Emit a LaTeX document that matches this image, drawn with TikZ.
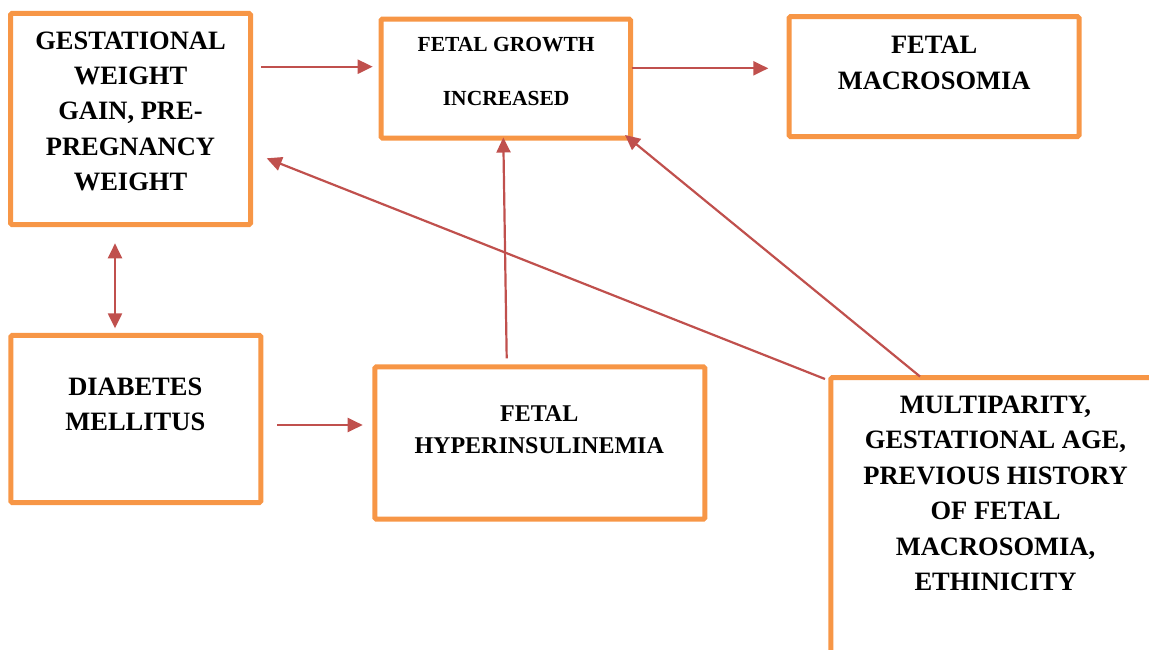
\documentclass[tikz,border=0pt]{standalone}
\usepackage{fontspec}
\setmainfont{Liberation Serif}
\usetikzlibrary{arrows.meta}
\definecolor{boxorange}{HTML}{F79646}
\definecolor{arrred}{HTML}{C0504D}

\begin{document}
\begin{tikzpicture}[x=1pt, y=-1pt,
  factor/.style={draw=boxorange, line width=5pt, rounded corners=1.5pt, outer sep=0pt, inner sep=0pt, fill=white},
  boxtext/.style={inner sep=0pt, align=center, font=\bfseries\fontsize{26.5}{35.3}\selectfont},
  link/.style={-{Triangle[length=15pt,width=14pt]}, line width=2.2pt, arrred},
  bothlink/.style={{Triangle[length=15pt,width=14pt]}-{Triangle[length=15pt,width=14pt]}, line width=2.2pt, arrred}
]
\useasboundingbox (0,0) rectangle (1149,649);
\clip (0,0) rectangle (1149,649);
% factor boxes
\node[factor, minimum width=240pt, minimum height=211.2pt] (gwg) at (130.5,118.9) {};
\node[factor, minimum width=249.5pt, minimum height=119pt] (growth) at (505.75,78.5) {};
\node[factor, minimum width=290pt, minimum height=119.8pt] (macro) at (934,76.6) {};
\node[factor, minimum width=250pt, minimum height=167.3pt] (dm) at (135.8,418.9) {};
\node[factor, minimum width=330pt, minimum height=152.4pt] (hyper) at (539.8,443) {};
\node[factor, minimum width=329.2pt, minimum height=342.5pt] (multi) at (995.4,548.75) {};
% box texts
\node[boxtext] (gwg-txt) at (130.5,111.2) {GESTATIONAL\\WEIGHT\\GAIN, PRE-\\PREGNANCY\\WEIGHT};
\node[boxtext, font=\bfseries\fontsize{21.5}{54.3}\selectfont] (growth-txt) at (506.2,71.3) {FETAL GROWTH\\INCREASED};
\node[boxtext, font=\bfseries\fontsize{26.5}{36.5}\selectfont] (macro-txt) at (934.2,62.9) {FETAL\\MACROSOMIA};
\node[boxtext] (dm-txt) at (135.3,404.2) {DIABETES\\MELLITUS};
\node[boxtext, font=\bfseries\fontsize{24}{32}\selectfont] (hyper-txt) at (539.2,429.2) {FETAL\\HYPERINSULINEMIA};
\node[boxtext, font=\bfseries\fontsize{26.5}{35.5}\selectfont] (multi-txt) at (995.5,493.4) {MULTIPARITY,\\GESTATIONAL AGE,\\PREVIOUS HISTORY\\OF FETAL\\MACROSOMIA,\\ETHINICITY};
% arrows
\draw[link] ([xshift=10.5pt,yshift=52.2pt]gwg.east) -- ([xshift=-8.3pt,yshift=11.8pt]growth.west);
\draw[link] ([xshift=1.2pt,yshift=10.2pt]growth.east) -- ([xshift=-20.7pt,yshift=8.3pt]macro.west);
\draw[bothlink] ([xshift=-15.5pt,yshift=-18.8pt]gwg.south) -- ([xshift=-20.8pt,yshift=6.9pt]dm.north);
\draw[link] ([xshift=16.5pt,yshift=-6.1pt]dm.east) -- ([xshift=-12.1pt,yshift=18pt]hyper.west);
\draw[link] ([xshift=-33.1pt,yshift=8.5pt]hyper.north) -- ([xshift=-2.45pt,yshift=0.5pt]growth.south);
\draw[link] ([xshift=-5.8pt,yshift=-1.5pt]multi.north west) -- ([xshift=16.2pt,yshift=-39.4pt]gwg.east);
\draw[link] ([xshift=89.2pt,yshift=1pt]multi.north west) -- ([xshift=-5.5pt,yshift=3pt]growth.south east);
\end{tikzpicture}
\end{document}
